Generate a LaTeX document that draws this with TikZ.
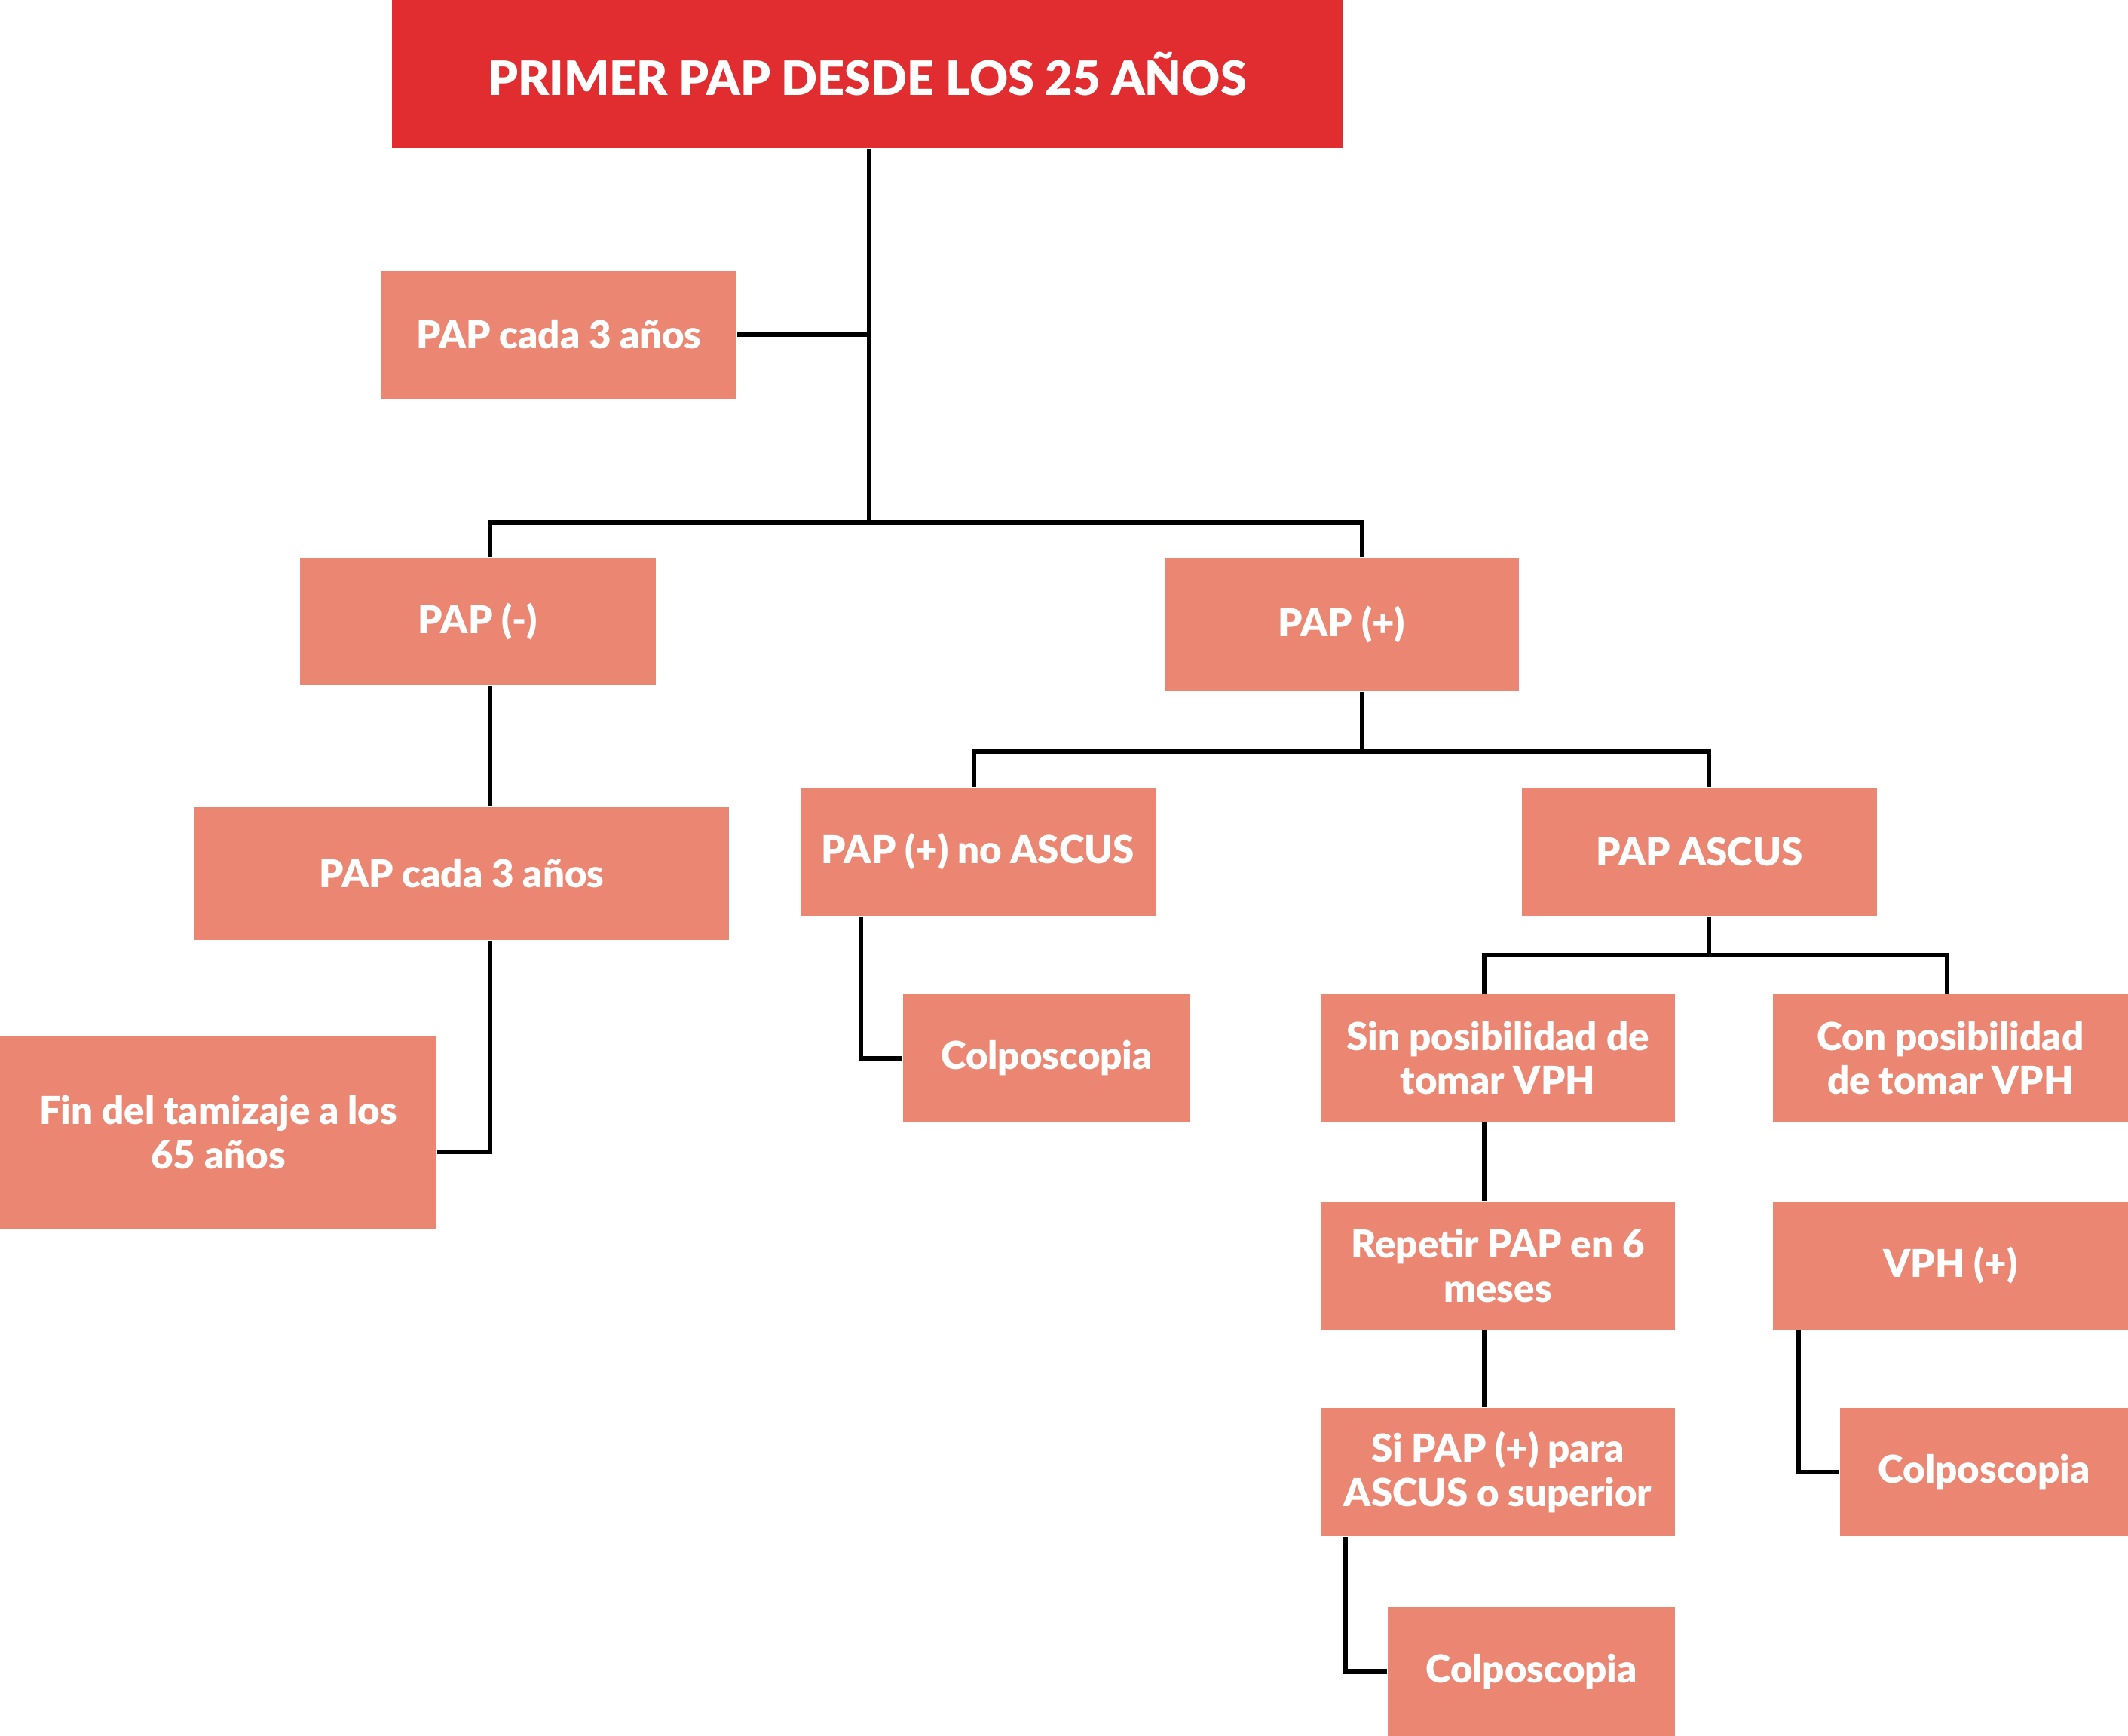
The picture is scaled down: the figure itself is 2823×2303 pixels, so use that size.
\documentclass[tikz,border=0pt]{standalone}
\usepackage{fontspec}
\setmainfont{Lato}[BoldFont={Lato Black}]
\usetikzlibrary{calc}
\definecolor{titlered}{HTML}{E12D30}
\definecolor{salmon}{HTML}{EA8671}
\tikzset{
  box/.style={fill=salmon, text=white, font=\bfseries\fontsize{14.5pt}{16.6pt}\selectfont, align=center, inner sep=0pt, minimum width=4.71cm, minimum height=1.70cm},
  titlebox/.style={fill=titlered, text=white, font=\bfseries\fontsize{17.9pt}{21pt}\selectfont, align=center, inner sep=0pt, minimum width=12.61cm, minimum height=1.97cm},
  conn/.style={draw=black, line width=0.065cm}
}
\begin{document}
\begin{tikzpicture}[x=0.01cm, y=-0.01cm]
\useasboundingbox (0,0) rectangle (2823,2303);
\fill[white] (0,0) rectangle (2823,2303);
% nodes
\node[titlebox] (title) at (1150.5,98.5) {PRIMER PAP DESDE LOS 25 AÑOS};
\node[box] (pap1) at (741.5,444) {PAP cada 3 años};
\node[box, minimum height=1.69cm] (papneg) at (634,824.5) {PAP (-)};
\node[box, minimum width=4.70cm, minimum height=1.77cm] (pappos) at (1780,828.5) {PAP (+)};
\node[box, minimum width=7.09cm, minimum height=1.77cm] (pap2) at (612.5,1158.5) {PAP cada 3 años};
\node[box, minimum width=5.79cm, minimum height=2.56cm] (fin) at (289.5,1502) {Fin del tamizaje a los\\65 años};
\node[box] (noascus) at (1297.5,1130) {PAP (+) no ASCUS};
\node[box] (ascus) at (2254.5,1130) {PAP ASCUS};
\node[box, minimum width=3.81cm] (colpo1) at (1388.5,1404) {Colposcopia};
\node[box, minimum width=4.70cm, minimum height=1.69cm] (sin) at (1987,1403.5) {Sin posibilidad de\\tomar VPH};
\node[box, minimum height=1.69cm] (con) at (2587.5,1403.5) {Con posibilidad\\de tomar VPH};
\node[box, minimum width=4.70cm] (rep) at (1987,1679) {Repetir PAP en 6\\meses};
\node[box] (vph) at (2587.5,1679) {VPH (+)};
\node[box, minimum width=4.70cm] (sipap) at (1987,1953) {Si PAP (+) para\\ASCUS o superior};
\node[box, minimum width=3.82cm] (colpo2) at (2632,1953) {Colposcopia};
\node[box, minimum width=3.81cm, minimum height=1.71cm] (colpo3) at (2031.5,2217.5) {Colposcopia};
% junction coordinates
\coordinate (j1) at (1153,693);
\coordinate (a) at (650,693);
\coordinate (b) at (1807,693);
\coordinate (h) at (650,1528);
\coordinate (c1) at (1292,997);
\coordinate (c2) at (2267,997);
\coordinate (d) at (1142,1404);
\coordinate (e1) at (1969,1267);
\coordinate (e2) at (2583,1267);
\coordinate (f) at (1785,2217);
\coordinate (g) at (2386,1953);
% connectors
\draw[conn] (title.south -| j1) -- (j1);
\draw[conn] (pap1.east) -- (pap1.east -| j1);
\draw[conn] (papneg.north -| a) -- (a) -- (b) -- (pappos.north -| b);
\draw[conn] (papneg.south -| a) -- (pap2.north -| a);
\draw[conn] (pap2.south -| a) -- (h) -- (fin.east |- h);
\draw[conn] (pappos.south -| b) -- (b |- c1);
\draw[conn] (noascus.north -| c1) -- (c1) -- (c2) -- (ascus.north -| c2);
\draw[conn] (noascus.south -| d) |- (colpo1.west);
\draw[conn] (ascus.south -| c2) -- (c2 |- e1);
\draw[conn] (sin.north -| e1) -- (e1) -- (e2) -- (con.north -| e2);
\draw[conn] (sin.south -| e1) -- (rep.north -| e1);
\draw[conn] (rep.south -| e1) -- (sipap.north -| e1);
\draw[conn] (sipap.south -| f) |- (colpo3.west);
\draw[conn] (vph.south -| g) |- (colpo2.west);
\end{tikzpicture}
\end{document}
